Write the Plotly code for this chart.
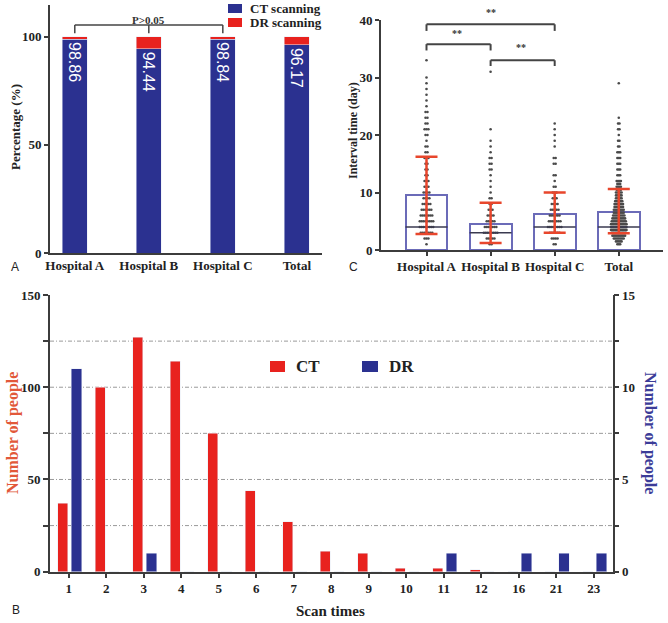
import numpy as np
import plotly.graph_objects as go

W, H = 668, 623
SERIF = "Liberation Serif"
BLUE = "#2B3190"
RED = "#E8221E"
AX = "#3c3c3c"

# ---------------- Panel A data ----------------
hospitals = ["Hospital A", "Hospital B", "Hospital C", "Total"]
ct_pct = [98.86, 94.44, 98.84, 96.17]
dr_pct = [1.14, 5.56, 1.16, 3.83]

# ---------------- Panel C data ----------------
mean_days = [9.5, 4.6, 6.3, 6.6]
median_days = [4, 3, 4, 4]
err_upper = [16.2, 8.2, 10.0, 10.6]
err_lower = [2.8, 1.2, 3.0, 2.9]

a_days = [1, 2, 3, 4, 5, 6, 7, 8, 9, 10, 11, 12, 13, 14, 15, 16, 17, 18, 19, 20, 21, 22, 23, 24, 25, 26, 27, 28, 29, 30, 33]
a_counts = [1, 3, 7, 8, 8, 7, 6, 5, 4, 4, 3, 3, 2, 2, 2, 3, 2, 2, 1, 2, 3, 2, 2, 2, 1, 1, 1, 1, 1, 1, 1]
b_days = [1, 2, 3, 4, 5, 6, 7, 8, 9, 10, 11, 12, 13, 14, 15, 16, 17, 18, 19, 21, 31]
b_counts = [2, 5, 8, 7, 5, 4, 3, 2, 2, 1, 1, 1, 1, 2, 2, 2, 1, 1, 1, 1, 1]
c_days = [1, 2, 3, 4, 5, 6, 7, 8, 9, 10, 11, 12, 13, 15, 16, 18, 19, 20, 21, 22]
c_counts = [2, 4, 6, 8, 7, 6, 5, 4, 3, 3, 2, 1, 2, 2, 2, 1, 1, 1, 1, 1]
t_days = [1, 1.5, 2, 2.5, 3, 3.5, 4, 4.5, 5, 5.5, 6, 6.5, 7, 7.5, 8, 8.5, 9, 9.5, 10, 10.5,
          11, 11.5, 12, 13, 14, 15, 16, 17, 18, 19, 20, 21, 22, 23, 29]
t_counts = [3, 5, 8, 10, 11, 12, 12, 12, 11, 10, 9, 8, 8, 7, 7, 6, 5, 5, 5, 4,
            4, 3, 4, 3, 3, 3, 3, 3, 2, 2, 1, 2, 2, 1, 1]

# ---------------- Panel B data ----------------
scan_times = ["1", "2", "3", "4", "5", "6", "7", "8", "9", "10", "11", "12", "16", "21", "23"]
ct_people = [37, 100, 127, 114, 75, 44, 27, 11, 10, 2, 2, 1, 0, 0, 0]
dr_people = [11, 0, 1, 0, 0, 0, 0, 0, 0, 0, 1, 0, 1, 1, 1]


def px_x(p):
    return p / W


def px_y(p):
    return 1 - p / H


fig = go.Figure()

# ---- Panel A: stacked percentage bars ----
fig.add_trace(go.Bar(
    x=list(range(4)), y=ct_pct, name="CT scanning", marker_color=BLUE, width=0.338,
    text=[f"{v:.2f}" for v in ct_pct], textposition="inside", insidetextanchor="end",
    textangle=90, textfont=dict(family="Liberation Sans", size=16, color="white"),
    xaxis="x", yaxis="y", showlegend=False))
fig.add_trace(go.Bar(
    x=list(range(4)), y=dr_pct, name="DR scanning", marker_color=RED, width=0.338,
    xaxis="x", yaxis="y", showlegend=False))

# ---- Panel C: mean bars, dots, medians, error bars ----
fig.add_trace(go.Bar(
    x=list(range(4)), y=mean_days, width=0.655, showlegend=False,
    marker=dict(color="rgba(255,255,255,0)", line=dict(color="#6B6BB8", width=2)),
    xaxis="x2", yaxis="y2"))

groups = [(a_days, a_counts), (b_days, b_counts), (c_days, c_counts), (t_days, t_counts)]
dot_x, dot_y = [], []
for gi, (days, counts) in enumerate(groups):
    step = 0.03 if gi < 3 else 0.022
    for d, n in zip(days, counts):
        offs = (np.arange(n) - (n - 1) / 2) * step
        dot_x.extend((gi + offs).tolist())
        dot_y.extend([d] * n)
fig.add_trace(go.Scatter(
    x=dot_x, y=dot_y, mode="markers", showlegend=False,
    marker=dict(size=2.6, color="#4a4a4a"), xaxis="x2", yaxis="y2"))

fig.add_trace(go.Scatter(
    x=list(range(4)), y=median_days, mode="markers", showlegend=False,
    marker=dict(symbol="line-ew", size=30, line=dict(color="#3a3a50", width=1.5)),
    xaxis="x2", yaxis="y2"))

fig.add_trace(go.Scatter(
    x=list(range(4)), y=mean_days, mode="markers", showlegend=False,
    marker=dict(size=1, color="rgba(0,0,0,0)"),
    error_y=dict(type="data", symmetric=False,
                 array=[u - m for u, m in zip(err_upper, mean_days)],
                 arrayminus=[m - l for m, l in zip(mean_days, err_lower)],
                 color="#E8462C", thickness=2.5, width=11),
    xaxis="x2", yaxis="y2"))

# ---- Panel B: scan counts ----
fig.add_trace(go.Bar(
    x=scan_times, y=ct_people, name="CT", marker_color=RED, width=0.27, offset=-0.3,
    xaxis="x3", yaxis="y3", showlegend=False))
fig.add_trace(go.Bar(
    x=scan_times, y=dr_people, name="DR", marker_color=BLUE, width=0.27, offset=0.07,
    xaxis="x3", yaxis="y4", showlegend=False))

tick_font = dict(family=SERIF, size=13, color="#222", weight="bold")
axis_common = dict(showline=True, linecolor=AX, linewidth=1.6, showgrid=False,
                   zeroline=False, ticks="outside", tickcolor=AX, tickwidth=1.5,
                   tickfont=tick_font, automargin=False)

shapes = []
# panel A bracket
for (x0, y0, x1, y1) in [(0, 105.4, 2, 105.4), (0, 105.4, 0, 101.6), (2, 105.4, 2, 101.6), (1, 105.4, 1, 101.6)]:
    shapes.append(dict(type="line", xref="x", yref="y", x0=x0, y0=y0, x1=x1, y1=y1,
                       line=dict(color="#444", width=1.5)))
# panel C brackets
for (xa, xb, top, leg) in [(0, 2, 39.25, 38.1), (0, 1, 35.8, 34.7), (1, 2, 33.0, 32.0)]:
    shapes.append(dict(type="line", xref="x2", yref="y2", x0=xa, y0=top, x1=xb, y1=top,
                       line=dict(color="#444", width=2)))
    for xx in (xa, xb):
        shapes.append(dict(type="line", xref="x2", yref="y2", x0=xx, y0=top, x1=xx, y1=leg,
                           line=dict(color="#444", width=2)))
# panel B dashed grid
for g in [25, 50, 75, 100, 125]:
    shapes.append(dict(type="line", xref="x3 domain", yref="y3", x0=0, x1=1, y0=g, y1=g,
                       line=dict(color="#9a9a9a", width=1, dash="4px,2px,1px,2px"), layer="below"))

# legend swatches (paper pixels)
legend_items = [
    (BLUE, 228, 4, 242, 13, "CT scanning", 248, 13),
    (RED, 228, 18, 242, 27, "DR scanning", 248, 13),
    (RED, 270, 361, 285, 372, "CT", 294, 17),
    (BLUE, 362, 361, 378, 372, "DR", 387, 17),
]
ann = []
for col, x0, y0, x1, y1, lab, tx, fs in legend_items:
    shapes.append(dict(type="rect", xref="paper", yref="paper", x0=px_x(x0), x1=px_x(x1),
                       y0=px_y(y1), y1=px_y(y0), fillcolor=col, line=dict(width=0)))
    ann.append(dict(text=lab, x=px_x(tx), y=px_y((y0 + y1) / 2), xref="paper", yref="paper",
                    xanchor="left", yanchor="middle", showarrow=False,
                    font=dict(family=SERIF, size=fs, weight="bold", color="#222")))

ann.append(dict(text="P>0.05", x=1, y=105.4, xref="x", yref="y", showarrow=False,
                yanchor="bottom", yshift=-3, font=dict(family=SERIF, size=11, weight="bold", color="#333")))
# significance stars in panel C (pixel y positions, x in data units)
for (xx, ypx) in [(1.0, 13), (0.47, 33), (1.48, 48)]:
    ann.append(dict(text="**", x=xx, y=px_y(ypx), xref="x2", yref="paper", showarrow=False,
                    yanchor="middle",
                    font=dict(family=SERIF, size=10, weight="bold", color="#333")))


def title(text, x, y, angle, size, color):
    return dict(text=text, x=px_x(x), y=px_y(y), xref="paper", yref="paper", textangle=angle,
                xanchor="center", yanchor="middle", showarrow=False,
                font=dict(family=SERIF, size=size, weight="bold", color=color))


ann.append(title("Percentage (%)", 15, 127, -90, 13, "#222"))
ann.append(title("Interval time (day)", 353, 131, -90, 12, "#222"))
ann.append(title("Number of people", 13, 433, -90, 16, "#E2583A"))
ann.append(title("Number of people", 650, 433, 90, 16, "#3C3C98"))
ann.append(title("Scan times", 330, 611, 0, 15, "#222"))
for (lab, lx, ly) in [("A", 15, 267), ("B", 16, 610), ("C", 353, 267)]:
    ann.append(dict(text=lab, x=px_x(lx), y=px_y(ly), xref="paper", yref="paper", showarrow=False,
                    xanchor="center", yanchor="middle",
                    font=dict(family="Liberation Sans", size=12, color="#222")))

fig.update_layout(
    width=W, height=H, margin=dict(l=0, r=0, t=0, b=0, autoexpand=False),
    paper_bgcolor="white", plot_bgcolor="white", barmode="stack",
    xaxis=dict(domain=[px_x(50), px_x(322)], range=[-0.335, 3.34], anchor="y",
               tickvals=list(range(4)), ticktext=hospitals,
               **{**axis_common, "ticks": ""}),
    yaxis=dict(domain=[px_y(253), px_y(5)], range=[0, 114.6], anchor="x",
               tickvals=[0, 50, 100], ticklen=4, **axis_common),
    xaxis2=dict(domain=[px_x(381), px_x(663)], range=[-0.71, 3.69], anchor="y2",
                tickvals=list(range(4)), ticktext=hospitals, ticklen=4, **axis_common),
    yaxis2=dict(domain=[px_y(250), px_y(20)], range=[0, 40], anchor="x2",
                tickvals=[0, 10, 20, 30, 40], ticklen=4, **axis_common),
    xaxis3=dict(domain=[px_x(50), px_x(612.5)], range=[-0.5, 14.5], anchor="y3",
                type="category", categoryorder="array", categoryarray=scan_times,
                ticklen=4, **axis_common),
    yaxis3=dict(domain=[px_y(571.7), px_y(295)], range=[0, 150], anchor="x3",
                tickvals=[0, 25, 50, 75, 100, 125, 150],
                ticktext=["0", "", "50", "", "100", "", "150"], ticklen=5, **axis_common),
    yaxis4=dict(overlaying="y3", side="right", range=[0, 15], anchor="x3",
                tickvals=[0, 2.5, 5, 7.5, 10, 12.5, 15],
                ticktext=["0", "", "5", "", "10", "", "15"], ticklen=5, **axis_common),
    shapes=shapes, annotations=ann,
)

fig.write_html("out.html", config={"displayModeBar": False},
               post_script="document.body.style.margin='0';document.body.style.overflow='hidden';")
